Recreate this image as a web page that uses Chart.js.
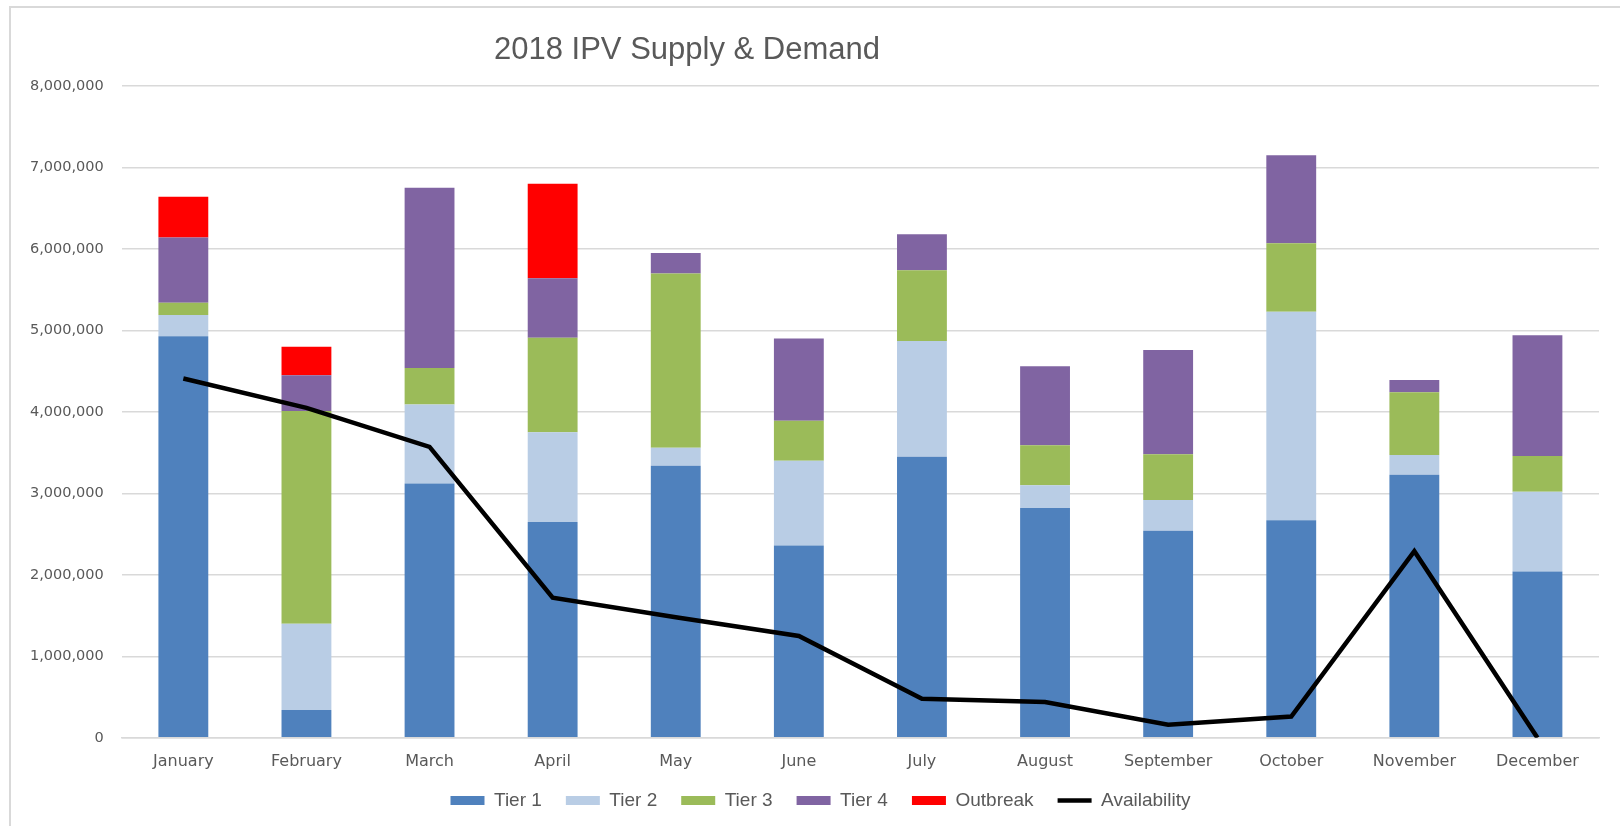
<!DOCTYPE html>
<html>
<head>
<meta charset="utf-8">
<script src="https://cdn.jsdelivr.net/npm/chart.js@4.4.1/dist/chart.umd.min.js"></script>
<style>
  html, body { margin: 0; padding: 0; background: #fff; }
  .wrap { position: relative; width: 1620px; height: 826px; overflow: hidden; }
  .frame { position: absolute; left: 9px; top: 6px; width: 1700px; height: 900px;
           border-top: 2px solid #d9d9d9; border-left: 2px solid #d9d9d9; }
  canvas { position: absolute; left: 0; top: 0; }
</style>
</head>
<body>
<div class="wrap">
  <div class="frame"></div>
  <canvas id="ipvChart" width="1620" height="826"></canvas>
</div>
<script>
const months = ['January', 'February', 'March', 'April', 'May', 'June', 'July',
                'August', 'September', 'October', 'November', 'December'];

// doses per month
const tier1    = [4930000, 340000, 3120000, 2650000, 3340000, 2360000, 3450000, 2820000, 2540000, 2670000, 3230000, 2040000];
const tier2    = [260000, 1060000, 970000, 1100000, 220000, 1040000, 1420000, 280000, 380000, 2560000, 240000, 980000];
const tier3    = [150000, 2610000, 450000, 1160000, 2140000, 490000, 870000, 490000, 560000, 840000, 770000, 440000];
const tier4    = [800000, 440000, 2210000, 730000, 250000, 1010000, 440000, 970000, 1280000, 1080000, 150000, 1480000];
const outbreak = [500000, 350000, 0, 1160000, 0, 0, 0, 0, 0, 0, 0, 0];
const availability = [4410000, 4050000, 3570000, 1720000, 1480000, 1250000, 480000, 440000, 160000, 260000, 2290000, 0];

const yTicksMax = 8000000;
const yTicksStep = 1000000;

const textGrey = '#595959';
const gridGrey = '#d9d9d9';

// title sits left of centre in the original, so it is drawn by hand
const titlePlugin = {
    id: 'offsetTitle',
    afterDraw(chart) {
        const c = chart.ctx;
        c.save();
        c.fillStyle = textGrey;
        c.font = '31px "Liberation Sans Narrow", "Liberation Sans", sans-serif';
        c.textBaseline = 'middle';
        c.textAlign = 'left';
        c.fillText('2018 IPV Supply & Demand', 494, 50);
        c.restore();
    }
};

// legend in the original sits tight under the axis labels:
// shrink its box so the plot grows down, then put the legend back where it was
const LEGEND_TRIM = 18;
const LEGEND_SHIFT_X = 15;
const legendNudge = {
    id: 'legendNudge',
    afterInit(chart) {
        const lg = chart.legend;
        const fit = lg.fit.bind(lg);
        lg.fit = function () { fit(); this.height -= LEGEND_TRIM; };
    },
    afterLayout(chart) {
        const lg = chart.legend;
        lg.top -= LEGEND_TRIM;
        lg.height += LEGEND_TRIM;
        lg.left += LEGEND_SHIFT_X;
        lg.right += LEGEND_SHIFT_X;
    }
};

function barSet(label, data, color) {
    return {
        type: 'bar',
        label: label,
        data: data,
        backgroundColor: color,
        borderWidth: 0,
        stack: 'demand',
        order: 1,
        pointStyle: 'rect',
        barPercentage: 0.405,
        categoryPercentage: 1
    };
}

new Chart(document.getElementById('ipvChart').getContext('2d'), {
    data: {
        labels: months,
        datasets: [
            barSet('Tier 1', tier1, '#4f81bd'),
            barSet('Tier 2', tier2, '#b9cde5'),
            barSet('Tier 3', tier3, '#9bbb59'),
            barSet('Tier 4', tier4, '#8064a2'),
            barSet('Outbreak', outbreak, '#ff0000'),
            {
                type: 'line',
                label: 'Availability',
                data: availability,
                borderColor: '#000000',
                backgroundColor: '#000000',
                borderWidth: 4.5,
                tension: 0,
                pointRadius: 0,
                pointStyle: 'line',
                stack: 'avail',
                order: 0
            }
        ]
    },
    options: {
        responsive: false,
        animation: false,
        layout: { padding: { left: 12, right: 21, top: 86, bottom: 6 } },
        plugins: {
            title: { display: false },
            tooltip: { enabled: false },
            legend: {
                position: 'bottom',
                labels: {
                    usePointStyle: true,
                    pointStyleWidth: 34,
                    boxHeight: 9,
                    padding: 24,
                    color: textGrey,
                    font: { family: '"Liberation Sans Narrow", "Liberation Sans", sans-serif', size: 19 },
                    sort: (a, b) => a.datasetIndex - b.datasetIndex
                }
            }
        },
        scales: {
            x: {
                stacked: true,
                grid: { display: false, drawTicks: false },
                border: { color: gridGrey, width: 1.5 },
                ticks: {
                    color: textGrey,
                    padding: 14,
                    maxRotation: 0,
                    font: { family: '"DejaVu Sans", Verdana, sans-serif', size: 16 }
                }
            },
            y: {
                stacked: true,
                min: 0,
                max: yTicksMax,
                grid: { color: gridGrey, lineWidth: 1.5, drawTicks: false },
                border: { display: false },
                ticks: {
                    stepSize: yTicksStep,
                    color: textGrey,
                    padding: 18,
                    font: { family: '"DejaVu Sans", Verdana, sans-serif', size: 14.5 },
                    callback: (v) => v.toLocaleString('en-US')
                }
            }
        }
    },
    plugins: [titlePlugin, legendNudge]
});
</script>
</body>
</html>
